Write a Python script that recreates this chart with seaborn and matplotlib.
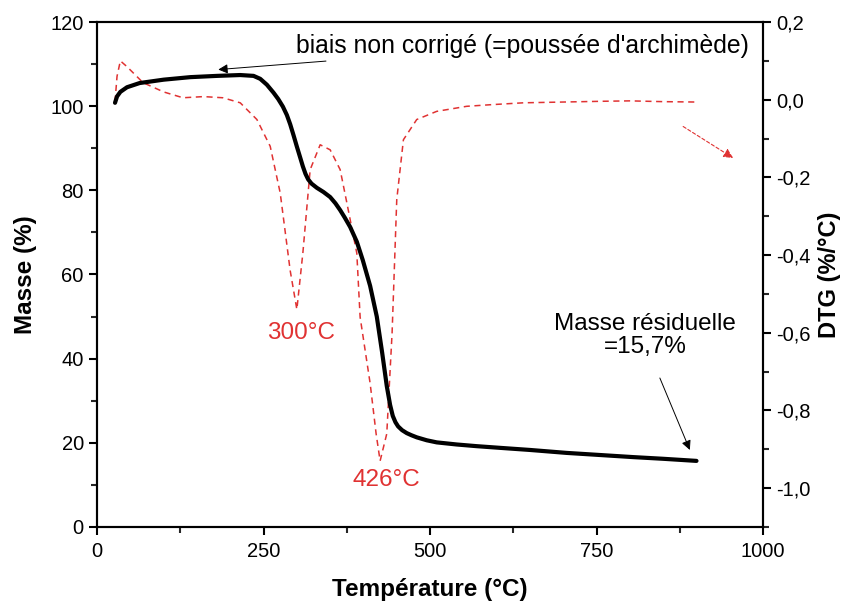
import pandas as pd
import matplotlib
matplotlib.use('Agg')
import matplotlib.pyplot as plt
from matplotlib.ticker import MultipleLocator, FuncFormatter
import seaborn as sns

# TGA curve (mass %)
tga_temp = [27, 30, 35, 45, 64, 100, 140, 180, 215, 235, 245, 255, 265, 272, 279, 285, 290,
            295, 300, 305, 309, 313, 317, 322, 330, 340, 350, 358, 365, 372, 380, 390, 399,
            410, 420, 428, 435, 440, 444, 448, 452, 458, 465, 472, 480, 495, 510,
            540, 570, 605, 650, 705, 755, 805, 850, 900]
tga_mass = [100.8, 102.3, 103.4, 104.5, 105.5, 106.3, 106.9, 107.2, 107.4, 107.2, 106.5, 105.1,
            103.2, 101.7, 99.9, 97.9, 95.7, 93.1, 90.4, 87.8, 85.7, 83.9, 82.6, 81.6, 80.6,
            79.6, 78.4, 76.9, 75.3, 73.5, 71.3, 67.8, 63.4, 57.3, 50.0, 41.5, 33.5, 29.0,
            26.4, 24.9, 23.9, 23.0, 22.3, 21.8, 21.3, 20.6, 20.1, 19.6, 19.2, 18.8, 18.3,
            17.6, 17.1, 16.6, 16.2, 15.7]

# DTG curve (%/°C), right axis
dtg_temp = [27, 30, 35, 45, 69, 100, 129, 160, 189, 215, 240, 260, 275, 290, 300, 309, 320,
            335, 350, 365, 375, 390, 395, 410, 419, 425, 435, 443, 450, 460, 480, 510, 555,
            590, 640, 700, 760, 800, 850, 900]
dtg_val = [-0.005, 0.06, 0.10, 0.085, 0.044, 0.02, 0.005, 0.008, 0.005, -0.008, -0.051, -0.12,
           -0.24, -0.44, -0.54, -0.395, -0.18, -0.116, -0.129, -0.18, -0.265, -0.395, -0.56,
           -0.73, -0.86, -0.93, -0.86, -0.60, -0.257, -0.103, -0.051, -0.03, -0.017, -0.013,
           -0.008, -0.006, -0.004, -0.003, -0.005, -0.006]

x_ticks = [0, 250, 500, 750, 1000]
y_ticks = [0, 20, 40, 60, 80, 100, 120]
dtg_ticks = [-1.0, -0.8, -0.6, -0.4, -0.2, 0.0, 0.2]

RED = '#e03232'

sns.set_style('ticks')
plt.rcParams['font.family'] = ['Liberation Sans', 'DejaVu Sans']
plt.rcParams['text.color'] = 'black'
plt.rcParams['axes.labelcolor'] = 'black'

tga = pd.DataFrame({'T': tga_temp, 'm': tga_mass})
dtg = pd.DataFrame({'T': dtg_temp, 'd': dtg_val})

fig = plt.figure(figsize=(8.46, 6.05), dpi=100)
ax = fig.add_axes([0.1147, 0.129, 0.902 - 0.1147, 0.9636 - 0.129])
ax2 = ax.twinx()

sns.lineplot(data=dtg, x='T', y='d', ax=ax2, color=RED, linewidth=1.1,
             linestyle=(0, (4, 3)))
sns.lineplot(data=tga, x='T', y='m', ax=ax, color='black', linewidth=3,
             solid_joinstyle='round', solid_capstyle='round')
ax.set_zorder(ax2.get_zorder() + 1)
ax.patch.set_visible(False)

ax.set_xlim(0, 1000)
ax.set_ylim(0, 120)
ax2.set_ylim(-1.1, 0.2)
ax.set_xticks(x_ticks)
ax.set_yticks(y_ticks)
ax2.set_yticks(dtg_ticks)
ax.xaxis.set_minor_locator(MultipleLocator(125))
ax.yaxis.set_minor_locator(MultipleLocator(10))
ax2.yaxis.set_minor_locator(MultipleLocator(0.1))
ax2.yaxis.set_major_formatter(FuncFormatter(lambda v, p: f'{v:.1f}'.replace('.', ',').replace('-0,0', '0,0')))

for a in (ax, ax2):
    for s in a.spines.values():
        s.set_linewidth(1.5)
        s.set_color('black')
    a.tick_params(which='major', direction='out', length=6, width=1.5, labelsize=14.5, colors='black')
    a.tick_params(which='minor', direction='out', length=4, width=1.5)
ax.tick_params(axis='x', pad=5)

ax.set_xlabel('Température (°C)', fontsize=17.5, fontweight='bold', labelpad=12)
ax.set_ylabel('Masse (%)', fontsize=17.5, fontweight='bold', labelpad=10)
ax2.set_ylabel('DTG (%/°C)', fontsize=17, fontweight='bold', labelpad=5)

# annotations
ax.annotate("biais non corrigé (=poussée d'archimède)", xy=(182, 108.7), xytext=(299, 114.4),
            fontsize=17.8, va='center', ha='left',
            arrowprops=dict(arrowstyle='-|>', color='black', lw=0.7, shrinkA=2, shrinkB=0,
                            mutation_scale=14))
ax.text(306, 46.1, '300°C', color=RED, fontsize=17.5, ha='center', va='center')
ax.text(435, 11.2, '426°C', color=RED, fontsize=17.5, ha='center', va='center')
ax.text(823, 45.6, 'Masse résiduelle\n=15,7%', fontsize=17.5, ha='center', va='center',
        linespacing=1.05)
ax.annotate('', xy=(890, 18.3), xytext=(845, 35.4),
            arrowprops=dict(arrowstyle='-|>', color='black', lw=0.7, shrinkA=0, shrinkB=0,
                            mutation_scale=14))
ax2.annotate('', xy=(955, -0.15), xytext=(880, -0.069),
             arrowprops=dict(arrowstyle='-|>', color=RED, lw=0.8, ls=(0, (3, 2)),
                             shrinkA=0, shrinkB=0, mutation_scale=14))

fig.savefig('out.png', dpi=100)
